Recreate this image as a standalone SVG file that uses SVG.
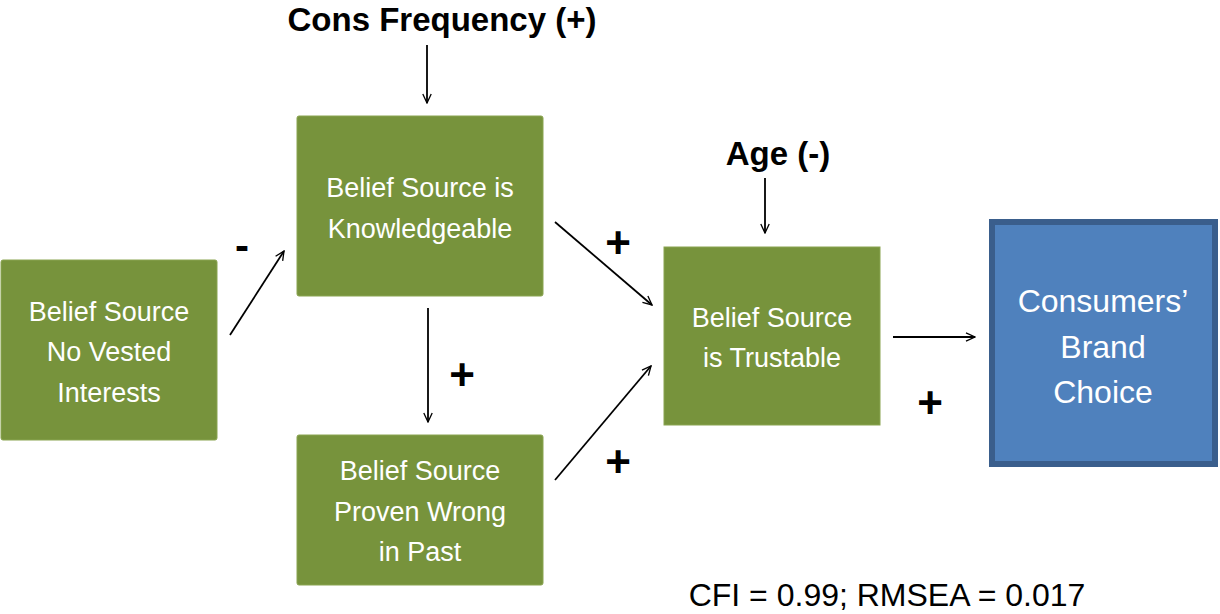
<svg xmlns="http://www.w3.org/2000/svg" width="1220" height="614" viewBox="0 0 1220 614">
<style>
.g{fill:#77933c;stroke:#8aa450;stroke-width:1}
.b{fill:#4f81bd;stroke:#3a5e8c;stroke-width:6}
.t{font-family:"Liberation Sans",Arial,sans-serif;fill:#fff;text-anchor:middle;font-size:27px}
.tb{font-family:"Liberation Sans",Arial,sans-serif;fill:#fff;text-anchor:middle;font-size:32px}
.h{font-family:"Liberation Sans",Arial,sans-serif;fill:#000;font-weight:bold;text-anchor:middle}
.c{stroke:#000;stroke-width:1.8;fill:none;marker-end:url(#a)}
</style>
<defs>
<marker id="a" viewBox="0 0 20 20" refX="18" refY="10" markerWidth="12" markerHeight="12" markerUnits="userSpaceOnUse" orient="auto">
<path d="M3,3 L18,10 L3,17" fill="none" stroke="#000" stroke-width="2.2"/>
</marker>
</defs>
<rect width="1220" height="614" fill="#fff"/>
<g id="connectors">
<line class="c" x1="230" y1="335" x2="284" y2="251"/>
<line class="c" x1="427" y1="45" x2="427" y2="103"/>
<line class="c" x1="555" y1="222" x2="652" y2="305"/>
<line class="c" x1="428" y1="308" x2="428" y2="422"/>
<line class="c" x1="555" y1="480" x2="651" y2="366"/>
<line class="c" x1="765" y1="178" x2="765" y2="233"/>
<line class="c" x1="893" y1="337" x2="975" y2="337"/>
</g>
<g id="labels">
<text class="h" x="442" y="31" font-size="33">Cons Frequency (+)</text>
<text class="h" x="778" y="165" font-size="33">Age (-)</text>
<text class="h" x="242" y="260" font-size="42">-</text>
<text class="h" x="618" y="258" font-size="44">+</text>
<text class="h" x="462" y="390" font-size="44">+</text>
<text class="h" x="618" y="477" font-size="44">+</text>
<text class="h" x="930" y="418" font-size="44">+</text>
<text x="887" y="606" font-family="'Liberation Sans',Arial,sans-serif" font-size="32" text-anchor="middle" fill="#000">CFI = 0.99; RMSEA = 0.017</text>
</g>
<g id="n1">
<rect class="g" x="1" y="260" width="216" height="180" rx="2"/>
<text class="t" x="109" y="321">Belief Source</text>
<text class="t" x="109" y="361">No Vested</text>
<text class="t" x="109" y="402">Interests</text>
</g>
<g id="n2">
<rect class="g" x="297" y="116" width="246" height="180" rx="2"/>
<text class="t" x="420" y="197">Belief Source is</text>
<text class="t" x="420" y="238">Knowledgeable</text>
</g>
<g id="n3">
<rect class="g" x="297" y="435" width="246" height="150" rx="2"/>
<text class="t" x="420" y="480">Belief Source</text>
<text class="t" x="420" y="521">Proven Wrong</text>
<text class="t" x="420" y="561">in Past</text>
</g>
<g id="n4">
<rect class="g" x="664" y="247" width="216" height="178"/>
<text class="t" x="772" y="327">Belief Source</text>
<text class="t" x="772" y="367">is Trustable</text>
</g>
<g id="n5">
<rect class="b" x="992" y="222" width="223" height="242"/>
<text class="tb" x="1103" y="312">Consumers’</text>
<text class="tb" x="1103" y="358">Brand</text>
<text class="tb" x="1103" y="403">Choice</text>
</g>
</svg>
